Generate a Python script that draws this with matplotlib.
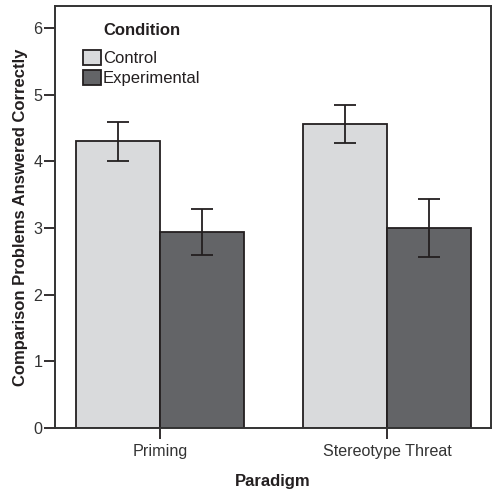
import matplotlib
matplotlib.use("Agg")
import matplotlib.pyplot as plt
import numpy as np
from matplotlib.patches import Patch

plt.rcParams['font.family'] = ['Liberation Sans', 'DejaVu Sans']

paradigms = ["Priming", "Stereotype Threat"]
conditions = ["Control", "Experimental"]
control_means = [4.30, 4.56]
control_err = [0.29, 0.29]
exper_means = [2.94, 3.00]
exper_err = [0.35, 0.44]
yticks = [0, 1, 2, 3, 4, 5, 6]

colors = ["#d9dadc", "#636467"]
edge = "#231f20"

fig = plt.figure(figsize=(4.93, 4.90), dpi=100)
ax = fig.add_axes([0.1116, 0.1265, 0.8844, 0.8613])

x = np.arange(len(paradigms))
w = 0.37
ekw = dict(ecolor=edge, elinewidth=1.3, capsize=8, capthick=1.3)
ax.bar(x - w/2, control_means, w, color=colors[0], edgecolor=edge, linewidth=1.3,
       yerr=control_err, error_kw=ekw, zorder=2)
ax.bar(x + w/2, exper_means, w, color=colors[1], edgecolor=edge, linewidth=1.3,
       yerr=exper_err, error_kw=ekw, zorder=2)

ax.set_xlim(-0.4626, 1.458)
ax.set_ylim(0, 6.33)
ax.set_yticks(yticks)
ax.set_xticks(x)
ax.set_xticklabels(paradigms)
for s in ax.spines.values():
    s.set_color("#333333")
    s.set_linewidth(1.4)
ax.tick_params(axis='both', colors="#231f20", labelcolor="#333333", labelsize=11.6, width=1.3, length=8, direction='out')
ax.tick_params(axis='y', pad=1)
ax.set_ylabel("Comparison Problems Answered Correctly", fontsize=12, fontweight='bold', color="#231f20", labelpad=4)
ax.set_xlabel("Paradigm", fontsize=12, fontweight='bold', color="#231f20", labelpad=11)

ax.text(0.110, 0.9408, "Condition", transform=ax.transAxes, ha='left', va='center',
        fontsize=12, fontweight='bold', color="#231f20")
handles = [Patch(facecolor=colors[0], edgecolor=edge, linewidth=1.3),
           Patch(facecolor=colors[1], edgecolor=edge, linewidth=1.3)]
leg = ax.legend(handles, conditions, loc='upper left',
                bbox_to_anchor=(0.0642, 0.896), frameon=False, fontsize=12,
                handlelength=1.05, handleheight=1.05, handletextpad=0.15,
                labelspacing=0.2, borderaxespad=0, borderpad=0)
for t in leg.get_texts():
    t.set_color("#231f20")

fig.savefig("out.png", dpi=100)
